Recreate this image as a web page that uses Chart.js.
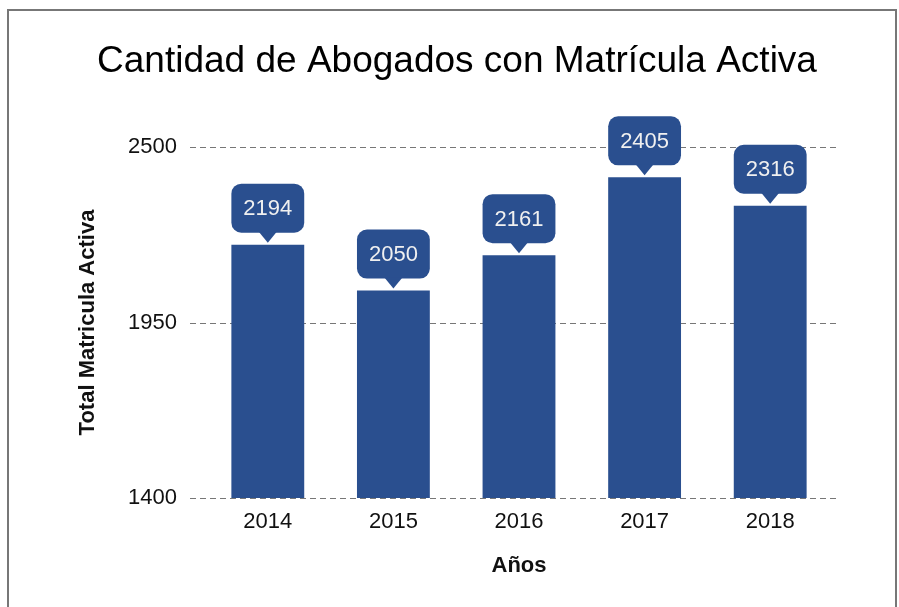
<!DOCTYPE html>
<html>
<head>
<meta charset="utf-8">
<script src="https://cdn.jsdelivr.net/npm/chart.js@4.4.1/dist/chart.umd.min.js"></script>
<style>
  body { margin: 0; background: #fff; }
  .wrap { position: relative; width: 899px; height: 607px; }
  .frame {
    position: absolute; left: 7px; top: 9px; width: 890px; height: 610px;
    box-sizing: border-box; border: 2px solid #777; border-bottom: none;
    pointer-events: none;
  }
</style>
</head>
<body>
<div class="wrap">
  <canvas id="myChart" width="899" height="607"></canvas>
  <div class="frame"></div>
</div>
<script>
var years = ["2014", "2015", "2016", "2017", "2018"];
var abogados = [2194, 2050, 2161, 2405, 2316];
var yTicks = [1400, 1950, 2500];

var FONT = "'Liberation Sans', Arial, sans-serif";
var BAR_COLOR = "#2a4f8f";

// dashed grid lines, a bit wider than the plot area
var dashedGrid = {
    id: "dashedGrid",
    beforeDatasetsDraw: function(chart) {
        var ctx = chart.ctx;
        var y = chart.scales.y;
        ctx.save();
        ctx.strokeStyle = "#777";
        ctx.lineWidth = 1;
        ctx.setLineDash([6, 4]);
        for (var i = 0; i < yTicks.length; i++) {
            var py = Math.round(y.getPixelForValue(yTicks[i])) + 0.5;
            ctx.beginPath();
            ctx.moveTo(chart.chartArea.left - 15, py);
            ctx.lineTo(chart.chartArea.right + 5, py);
            ctx.stroke();
        }
        ctx.restore();
    }
};

// rounded callout with a pointer above every bar
var callouts = {
    id: "callouts",
    afterDatasetsDraw: function(chart) {
        var ctx = chart.ctx;
        var bars = chart.getDatasetMeta(0).data;
        ctx.save();
        for (var i = 0; i < bars.length; i++) {
            var bar = bars[i];
            var w = bar.width;
            var h = 49;
            var tip = bar.y - 2;
            var bottom = tip - 10;
            var left = bar.x - w / 2;
            var top = bottom - h;
            ctx.fillStyle = BAR_COLOR;
            ctx.beginPath();
            ctx.roundRect(left, top, w, h, 10);
            ctx.fill();
            ctx.beginPath();
            ctx.moveTo(bar.x - 9, bottom - 1);
            ctx.lineTo(bar.x + 9, bottom - 1);
            ctx.lineTo(bar.x, tip);
            ctx.closePath();
            ctx.fill();
            ctx.fillStyle = "#f0f0f0";
            ctx.font = "22px " + FONT;
            ctx.textAlign = "center";
            ctx.textBaseline = "middle";
            ctx.fillText(String(abogados[i]), bar.x, top + h / 2 + 1);
        }
        ctx.restore();
    }
};

new Chart(document.getElementById("myChart"), {
    type: "bar",
    data: {
        labels: years,
        datasets: [{
            data: abogados,
            backgroundColor: BAR_COLOR,
            borderWidth: 0,
            barPercentage: 0.58,
            categoryPercentage: 1
        }]
    },
    options: {
        responsive: false,
        animation: false,
        layout: {
            padding: { left: 81, right: 66, top: 0, bottom: 0 }
        },
        plugins: {
            legend: { display: false },
            tooltip: { enabled: false },
            title: {
                display: true,
                text: "Cantidad de Abogados con Matrícula Activa",
                color: "#000",
                font: { family: FONT, size: 37, weight: "normal" },
                padding: { top: 40, bottom: 62.6 }
            }
        },
        scales: {
            x: {
                grid: { display: false },
                border: { display: false },
                ticks: {
                    color: "#111",
                    font: { family: FONT, size: 22 },
                    padding: 3
                },
                title: {
                    display: true,
                    text: "Años",
                    color: "#111",
                    font: { family: FONT, size: 22, weight: "bold" },
                    padding: { top: 0, bottom: 28 }
                },
                afterFit: function(scale) { scale.height = 109; }
            },
            y: {
                min: 1400,
                max: 2500,
                afterBuildTicks: function(scale) {
                    scale.ticks = yTicks.map(function(v) { return { value: v }; });
                },
                grid: { display: false, drawTicks: false },
                border: { display: false },
                ticks: {
                    color: "#111",
                    font: { family: FONT, size: 22 },
                    padding: 28,
                    callback: function(value) { return String(value); }
                },
                title: {
                    display: true,
                    text: "Total Matricula Activa",
                    color: "#111",
                    font: { family: FONT, size: 22, weight: "bold" },
                    padding: { top: -6, bottom: 0 }
                },
                afterFit: function(scale) { scale.width = 124; }
            }
        }
    },
    plugins: [dashedGrid, callouts]
});
</script>
</body>
</html>
